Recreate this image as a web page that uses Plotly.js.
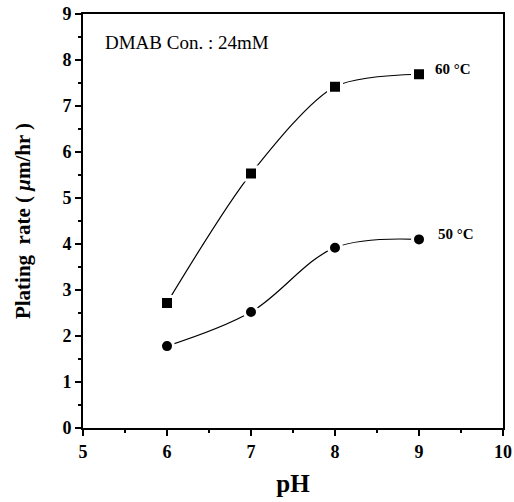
<!DOCTYPE html>
<html><head><meta charset="utf-8">
<script src="https://cdn.plot.ly/plotly-3.0.1.min.js"></script>
<style>body{margin:0;background:#fff}#chart{width:514px;height:502px}
.xtick text,.ytick text{font-weight:bold !important}</style>
</head><body><div id="chart"></div>
<script>
const pH = [6, 7, 8, 9];
const rate60 = [2.72, 5.53, 7.42, 7.69];
const rate50 = [1.78, 2.52, 3.92, 4.10];
const seriesLabels = ['60 °C', '50 °C'];
const noteText = 'DMAB Con. : 24mM';
const xTicks = [5, 6, 7, 8, 9, 10];
const yTicks = [0, 1, 2, 3, 4, 5, 6, 7, 8, 9];

const serif = 'Liberation Serif';
const traces = [
  {x: pH, y: rate60, mode: 'lines+markers', name: seriesLabels[0],
   line: {shape: 'spline', smoothing: 0.8, color: '#000', width: 1.2},
   marker: {symbol: 'square', size: 13, color: '#000', line: {color: '#fff', width: 3}}},
  {x: pH, y: rate50, mode: 'lines+markers', name: seriesLabels[1],
   line: {shape: 'spline', smoothing: 1, color: '#000', width: 1.2},
   marker: {symbol: 'circle', size: 13, color: '#000', line: {color: '#fff', width: 3}}}
];
const axisCommon = {
  showline: true, linecolor: '#000', linewidth: 2, mirror: true,
  ticks: 'outside', ticklen: 6, tickwidth: 2, tickcolor: '#000',
  showgrid: false, zeroline: false,
  tickfont: {family: serif, size: 18, color: '#000', weight: 700},
  minor: {ticks: 'outside', ticklen: 3, tickwidth: 2, tickcolor: '#000', dtick: 0.5, showgrid: false}
};
const layout = {
  width: 514, height: 502,
  margin: {l: 83, r: 11, t: 14, b: 74},
  paper_bgcolor: '#fff', plot_bgcolor: '#fff',
  showlegend: false,
  xaxis: Object.assign({}, axisCommon, {range: [5, 10], tickmode: 'array', tickvals: xTicks,
    ticktext: xTicks.map(String),
    title: {text: '<b>pH</b>', font: {family: serif, size: 25, color: '#000'}, standoff: 14}}),
  yaxis: Object.assign({}, axisCommon, {range: [0, 9], tickmode: 'array', tickvals: yTicks,
    ticktext: yTicks.map(String),
    title: {text: '<b>Plating  rate ( <i>μ</i>m/hr )</b>', font: {family: serif, size: 21, color: '#000'}, standoff: 26}}),
  annotations: [
    {x: 5.24, y: 8.38, xref: 'x', yref: 'y', text: noteText, showarrow: false, xanchor: 'left',
     font: {family: serif, size: 19, color: '#000'}},
    {x: 9.17, y: 7.8, xref: 'x', yref: 'y', text: '<b>' + seriesLabels[0] + '</b>', showarrow: false, xanchor: 'left',
     font: {family: serif, size: 15, color: '#000'}},
    {x: 9.2, y: 4.22, xref: 'x', yref: 'y', text: '<b>' + seriesLabels[1] + '</b>', showarrow: false, xanchor: 'left',
     font: {family: serif, size: 15, color: '#000'}}
  ]
};
Plotly.newPlot('chart', traces, layout, {displayModeBar: false, staticPlot: true});
</script></body></html>
